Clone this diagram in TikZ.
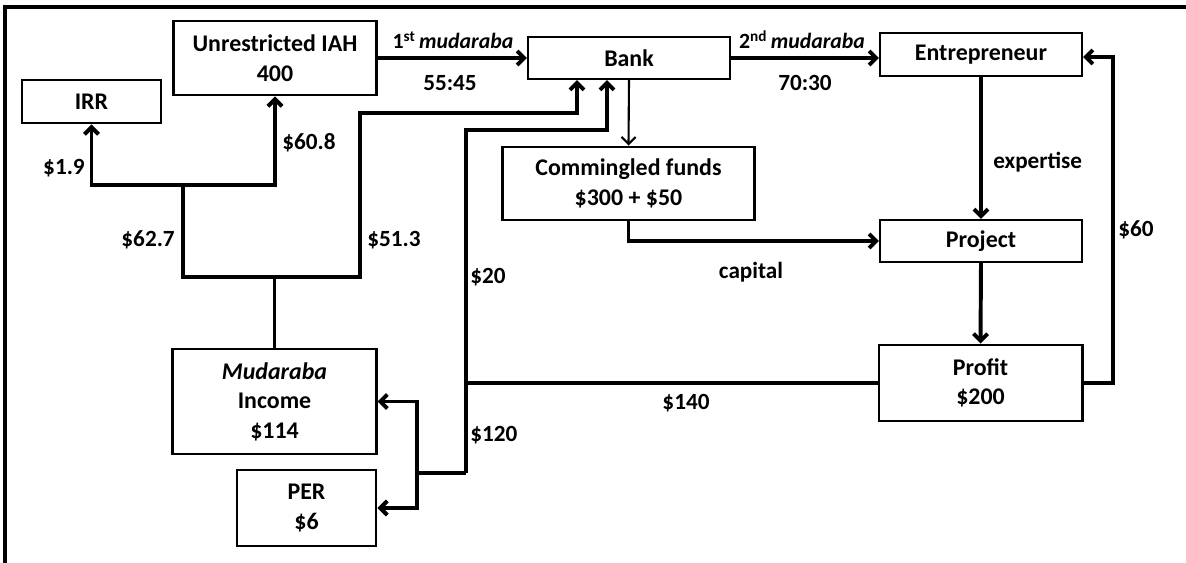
\documentclass[tikz,border=0pt]{standalone}
\usepackage{fontspec}
\setmainfont{Carlito}
\usetikzlibrary{
	arrows.meta,
	positioning,
	calc
}

\begin{document}
\begin{tikzpicture}[
				x=0.025cm, y=-0.025cm,
				stage/.style={
					rectangle, draw, line width=2.1pt, inner sep=0pt,
					align=center, font=\fontsize{17}{21}\selectfont\bfseries
				},
				thinbox/.style={
					stage, line width=1.5pt
				},
				lbl/.style={
					inner sep=0pt, font=\fontsize{16.5}{19}\selectfont\bfseries
				},
				contract/.style={
					lbl, font=\fontsize{15.5}{19}\selectfont\bfseries
				},
				flow/.style={line width=2.8pt},
				arrow/.style={flow, -{Straight Barb[length=5pt,width=10pt]}},
				thinarrow/.style={line width=1.5pt, -{Straight Barb[length=5pt,width=10pt]}}
				]
				\useasboundingbox (0,0) rectangle (1186,563);
				
				% frame
				\draw[line width=2.2pt] (5,563) -- (5,7) -- (1186,7);
				
				% investors and reserve
				\node[stage, minimum width=5.05cm, minimum height=1.85cm] (iah) at (275,58) {Unrestricted IAH\\400};
				\node[stage, minimum width=3.475cm, minimum height=1.075cm] (irr) at (91.5,101.5) {IRR};
				
				% bank
				\node[thinbox, minimum width=5.05cm, minimum height=1.05cm] (bank) at (629,58) {Bank};
				
				% commingled funds
				\node[stage, minimum width=6.275cm, minimum height=1.825cm] (comm) at (628.5,183.5) {Commingled funds\\\$300 + \$50};
				
				% entrepreneur, project, profit
				\node[thinbox, minimum width=5.05cm, minimum height=1.075cm] (entre) at (981,54.5) {Entrepreneur};
				\node[thinbox, minimum width=5.05cm, minimum height=1.05cm] (project) at (981,241) {Project};
				\node[stage, minimum width=5.075cm, minimum height=1.9cm] (profit) at (980.5,383) {Profit\\\$200};
				
				% income and PER
				\node[stage, minimum width=5.075cm, minimum height=2.625cm] (mudinc) at (274.5,401.5) {\textit{Mudaraba}\\Income\\\$114};
				\node[stage, minimum width=3.475cm, minimum height=1.9cm] (per) at (306.5,508) {PER\\\$6};
				
				% labels
				\node[contract] (l1st) at (453,40) {1\textsuperscript{st}\,\textit{mudaraba}};
				\node[lbl] (r5545) at (450,83) {55:45};
				\node[contract] (l2nd) at (802,40) {2\textsuperscript{nd}\,\textit{mudaraba}};
				\node[lbl] (r7030) at (805,83) {70:30};
				\node[lbl, anchor=west] (lexp) at (993,162) {expertise};
				\node[lbl] (lcap) at (751,272) {capital};
				\node[lbl, anchor=west] (l60) at (1118,230) {\$60};
				\node[lbl] (l140) at (686,403) {\$140};
				\node[lbl, anchor=west] (l120) at (470,435) {\$120};
				\node[lbl, anchor=west] (l20) at (470,277) {\$20};
				\node[lbl, anchor=west] (l513) at (367,240) {\$51.3};
				\node[lbl, anchor=east] (l627) at (175,240) {\$62.7};
				\node[lbl, anchor=west] (l608) at (282,143) {\$60.8};
				\node[lbl, anchor=east] (l19) at (85,168) {\$1.9};
				
				% corners of the flows
				\coordinate (split) at (274.5,277);
				\coordinate (lbr) at (183,185);
				\coordinate (rbr) at (360,113);
				\coordinate (c20) at (466,130);
				\coordinate (jlow) at (466,473);
				\coordinate (jper) at (417,473);
				\coordinate (rt) at (1113,57);
				
				% mudaraba contracts
				\draw[arrow] (iah.east) -- (bank.west);
				\draw[arrow] (bank.east) -- (bank.east -| entre.west);
				\draw[thinarrow] (bank.south) -- (comm.north);
				\draw[arrow] (comm.south) |- (project.west);
				\draw[arrow] (entre.south) -- (project.north);
				\draw[arrow] (project.south) -- (profit.north);
				
				% profit split
				\draw[arrow] (profit.east) -| (rt) -- (rt -| entre.east);
				\draw[flow] (profit.west) -- (profit.west -| jlow);
				\draw[arrow] (jlow) -- (c20) -| ([xshift=-0.55cm]bank.south);
				\draw[flow] (jlow) -- (jper);
				\draw[arrow] (jper) |- (mudinc.east);
				\draw[arrow] (jper) |- (per.east);
				
				% income split
				\draw[flow] (mudinc.north) -- (split);
				\draw[flow] (split) -| (lbr);
				\draw[arrow] (lbr) -| (irr.south);
				\draw[arrow] (lbr) -| (iah.south);
				\draw[arrow] (split) -| (rbr) -| ([xshift=-1.3cm]bank.south);
			\end{tikzpicture}
\end{document}
